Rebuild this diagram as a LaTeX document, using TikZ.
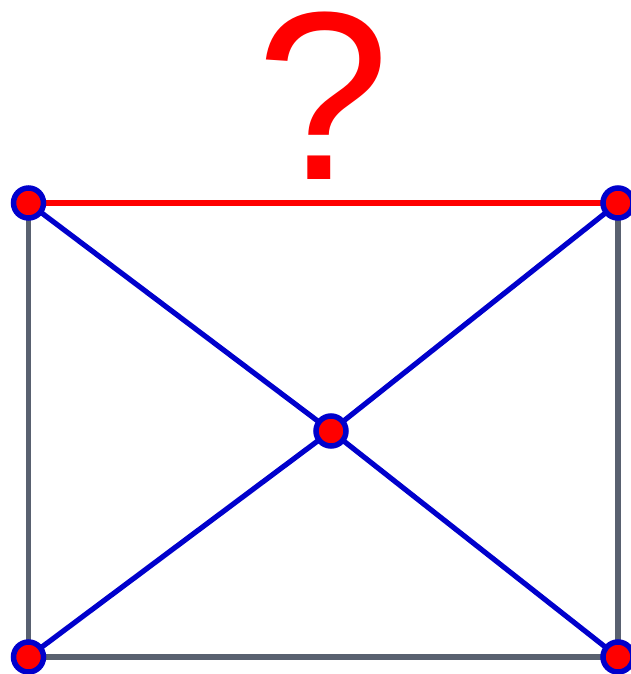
\documentclass[tikz,border=0pt]{standalone}
\usepackage{fontspec}
\setmainfont{Liberation Sans}
\usetikzlibrary{backgrounds}
\definecolor{vblue}{HTML}{0000CC}
\definecolor{egrey}{HTML}{596170}
\definecolor{vred}{HTML}{FF0000}
\begin{document}
\begin{tikzpicture}[x=1pt,y=-1pt,
  vtx/.style={circle,draw=vblue,fill=vred,line width=5.5pt,minimum size=30pt,inner sep=0pt},
  greyedge/.style={draw=egrey,line width=5.2pt},
  rededge/.style={draw=vred,line width=5.2pt},
  blueedge/.style={draw=vblue,line width=5.2pt}]
\useasboundingbox (0,0) rectangle (630,674);
\node[vtx] (ntl) at (28.5,203) {};
\node[vtx] (ntr) at (618,203) {};
\node[vtx] (nc) at (331,431) {};
\node[vtx] (nbl) at (28.5,657) {};
\node[vtx] (nbr) at (618,657) {};
\begin{scope}[on background layer]
\draw[greyedge] (ntl.center) -- (nbl.center) -- (nbr.center) -- (ntr.center);
\draw[rededge] (ntl.center) -- (ntr.center);
\draw[blueedge] (ntl.center) -- (nc.center) -- (nbr.center);
\draw[blueedge] (nbl.center) -- (nc.center) -- (ntr.center);
\end{scope}
\node[anchor=base,inner sep=0pt,text=vred,font=\fontsize{240}{240}\selectfont] (q) at (323,179.5) {?};
\end{tikzpicture}
\end{document}
